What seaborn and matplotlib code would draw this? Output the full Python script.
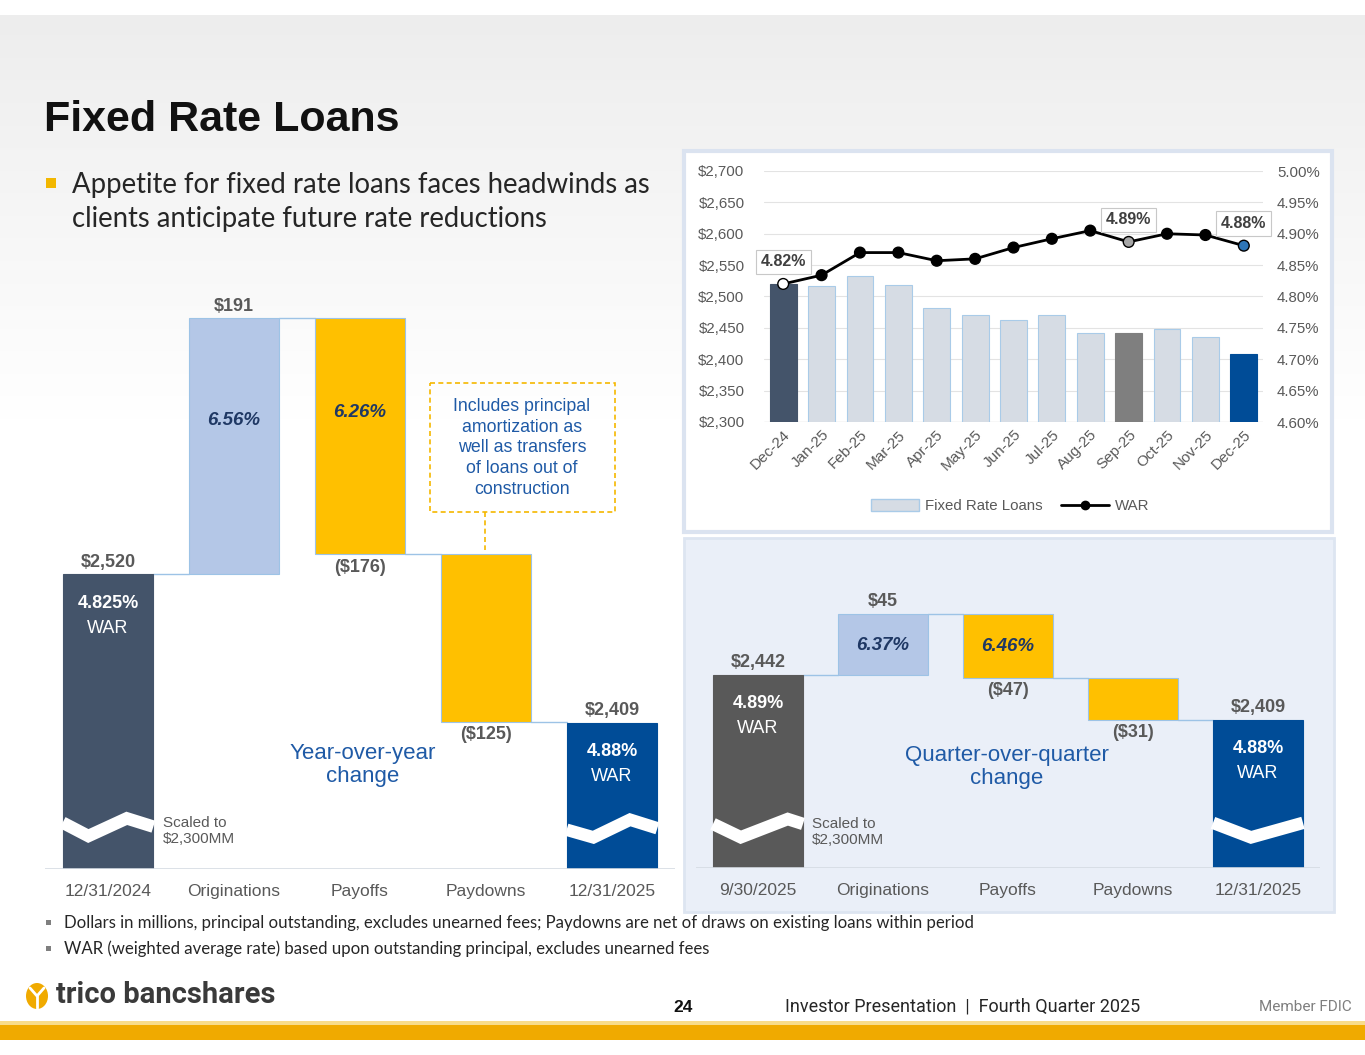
import numpy as np
import pandas as pd
import matplotlib.pyplot as plt
import seaborn as sns
from matplotlib.patches import Rectangle, Patch, Ellipse
from matplotlib.lines import Line2D
from matplotlib.ticker import FuncFormatter

# ============================================================================
# DATA
# ============================================================================

months = ['Dec-24', 'Jan-25', 'Feb-25', 'Mar-25', 'Apr-25', 'May-25', 'Jun-25',
          'Jul-25', 'Aug-25', 'Sep-25', 'Oct-25', 'Nov-25', 'Dec-25']
fixed_rate_loans = [2520, 2517, 2532, 2518, 2482, 2470, 2463, 2470, 2442, 2442, 2449, 2435, 2409]
war = [4.820, 4.834, 4.870, 4.870, 4.857, 4.860, 4.878, 4.892, 4.905, 4.887, 4.900, 4.898, 4.881]
war_labels = {0: '4.82%', 9: '4.89%', 12: '4.88%'}

yoy_steps = ['12/31/2024', 'Originations', 'Payoffs', 'Paydowns', '12/31/2025']
yoy_values = [2520, 191, -176, -125, 2409]
yoy_rates = ['4.825%', '6.56%', '6.26%', None, '4.88%']

qoq_steps = ['9/30/2025', 'Originations', 'Payoffs', 'Paydowns', '12/31/2025']
qoq_values = [2442, 45, -47, -31, 2409]
qoq_rates = ['4.89%', '6.37%', '6.46%', None, '4.88%']

scale_base = 2300

# ============================================================================
# STYLE
# ============================================================================

sns.set_theme(style='white')
plt.rcParams['font.family'] = ['Liberation Sans', 'DejaVu Sans']

W, H = 1365, 1055
GREY = '#595959'
BLUE_TXT = '#1f5aa6'
GOLD = '#ffc000'


def rect(x0, y0, x1, y1):
    return [x0 / W, 1 - y1 / H, (x1 - x0) / W, (y1 - y0) / H]


fig = plt.figure(figsize=(W / 100, H / 100), dpi=100)

# background canvas in pixel coordinates
bg = fig.add_axes([0, 0, 1, 1], zorder=0)
bg.set_xlim(0, W)
bg.set_ylim(H, 0)
bg.axis('off')
grad = np.linspace(0.93, 1.0, 200).reshape(-1, 1)
bg.imshow(np.dstack([grad, grad, grad]), extent=[0, W, 420, 15], aspect='auto', zorder=0)
bg.add_patch(Rectangle((0, 420), W, H - 420, fc='white', ec='none', zorder=0))

# panels
bg.add_patch(Rectangle((684, 151), 648, 381, fc='white', ec='#dbe3f0', lw=3, zorder=1))
bg.add_patch(Rectangle((684, 538), 650, 374, fc='#eaeff8', ec='#dde5f1', lw=2, zorder=1))

# title + bullet
bg.text(44, 120, 'Fixed Rate Loans', fontsize=31, fontweight='bold', color='#111111',
        va='center', ha='left', family=['Liberation Sans', 'DejaVu Sans'])
bg.add_patch(Rectangle((46, 178), 10, 10, fc='#f2b700', ec='none', zorder=2))
bg.text(72, 185, 'Appetite for fixed rate loans faces headwinds as', fontsize=19.8,
        color='#262626', va='center', family=['Lato', 'DejaVu Sans'])
bg.text(72, 219, 'clients anticipate future rate reductions', fontsize=19.8,
        color='#262626', va='center', family=['Lato', 'DejaVu Sans'])

# callout
bg.add_patch(Rectangle((430, 383), 185, 129, fill=False, ec='#f5b800', lw=1.2,
                       ls=(0, (3, 2)), zorder=2))
bg.plot([485, 485], [512, 550], color='#f5b800', lw=1.2, ls=(0, (3, 2)), zorder=2)
bg.text(522, 448, 'Includes principal\namortization as\nwell as transfers\nof loans out of\nconstruction',
        fontsize=12.8, color=BLUE_TXT, ha='center', va='center', linespacing=1.28, zorder=3)

bg.text(363, 765, 'Year-over-year\nchange', fontsize=16, color=BLUE_TXT, ha='center',
        va='center', linespacing=1.15, zorder=3)
bg.text(1007, 767, 'Quarter-over-quarter\nchange', fontsize=16, color=BLUE_TXT, ha='center',
        va='center', linespacing=1.15, zorder=3)
bg.text(163, 831, 'Scaled to\n$2,300MM', fontsize=11, color=GREY, ha='left', va='center',
        linespacing=1.15, zorder=3)
bg.text(812, 832, 'Scaled to\n$2,300MM', fontsize=11, color=GREY, ha='left', va='center',
        linespacing=1.15, zorder=3)

# footnotes
for yy, txt in [(923, 'Dollars in millions, principal outstanding, excludes unearned fees; '
                      'Paydowns are net of draws on existing loans within period'),
                (949, 'WAR (weighted average rate) based upon outstanding principal, excludes unearned fees')]:
    bg.add_patch(Rectangle((46, yy - 3), 5, 5, fc='#7f7f7f', ec='none', zorder=2))
    bg.text(64, yy, txt, fontsize=12.1, color='#262626', va='center', family=['Lato', 'DejaVu Sans'])

# footer
bg.add_patch(Ellipse((37, 996), 22, 26, fc='#f0aa00', ec='none', zorder=2))
bg.plot([30, 37, 44], [988, 996, 988], color='white', lw=2, zorder=3)
bg.plot([37, 37], [996, 1008], color='white', lw=2, zorder=3)
bg.text(56, 995, 'trico bancshares', fontsize=21, fontweight='bold', color='#3a3a3a',
        va='center', ha='left', family=['Liberation Sans Narrow', 'Roboto', 'DejaVu Sans'])
bg.text(683, 1007, '24', fontsize=12.5, fontweight='bold', color='#111111', ha='center', va='center')
bg.text(785, 1007, 'Investor Presentation  |  Fourth Quarter 2025', fontsize=13, color='#262626',
        va='center', ha='left', family=['Liberation Sans Narrow', 'Roboto', 'DejaVu Sans'])
bg.text(1352, 1007, 'Member FDIC', fontsize=11, color='#7f7f7f', va='center', ha='right',
        family=['Liberation Sans Narrow', 'Roboto', 'DejaVu Sans'])
bg.add_patch(Rectangle((0, 1021), W, 5, fc='#f8dc8a', ec='none', zorder=2))
bg.add_patch(Rectangle((0, 1025), W, 15, fc='#f0aa00', ec='none', zorder=2))

# ============================================================================
# TOP RIGHT: MONTHLY BARS + WAR LINE
# ============================================================================

ax = fig.add_axes(rect(764, 171, 1263, 422), zorder=2)
ax.set_facecolor('none')
bar_colors = ['#44546a'] + ['#d6dce4'] * 8 + ['#7f7f7f'] + ['#d6dce4'] * 2 + ['#004c97']
df_m = pd.DataFrame({'month': months, 'loans': fixed_rate_loans, 'war': war})
sns.barplot(data=df_m, x='month', y='loans', hue='month', palette=bar_colors, legend=False,
            width=0.70, ax=ax, saturation=1, zorder=2)
for p, c in zip(ax.patches, bar_colors):
    p.set_edgecolor('#a9cbe8' if c == '#d6dce4' else c)
    p.set_linewidth(0.8)
ax.set_ylim(2300, 2700)
ax.set_xlim(-0.5, 12.5)
ax.set_yticks(np.arange(2300, 2701, 50))
ax.yaxis.set_major_formatter(FuncFormatter(lambda v, _: f'${v:,.0f}'))
ax.yaxis.grid(True, color='#e3e3e3', lw=0.8, zorder=0)
ax.set_axisbelow(True)
ax.set_xlabel('')
ax.set_ylabel('')
for s in ax.spines.values():
    s.set_visible(False)
ax.axhline(2300, color='#d0d0d0', lw=0.9, zorder=1)
ax.tick_params(axis='y', length=0, pad=14, labelsize=10.8, labelcolor=GREY)
ax.tick_params(axis='x', length=0, pad=4, labelsize=11, labelcolor=GREY)
plt.setp(ax.get_xticklabels(), rotation=45, ha='right', rotation_mode='anchor')

ax2 = ax.twinx()
ax2.set_zorder(3)
x_pos = np.arange(len(months))
sns.lineplot(x=x_pos, y=war, ax=ax2, color='black', lw=2, zorder=3)
marker_colors = ['white'] + ['black'] * 8 + ['#a6a6a6'] + ['black'] * 2 + ['#2e75b6']
sns.scatterplot(x=x_pos, y=war, hue=x_pos, palette=marker_colors, legend=False, s=60,
                edgecolor='black', linewidth=1, ax=ax2, zorder=4)
ax2.set_ylim(4.60, 5.00)
ax2.set_yticks(np.arange(4.60, 5.001, 0.05))
ax2.yaxis.set_major_formatter(FuncFormatter(lambda v, _: f'{v:.2f}%'))
ax2.tick_params(axis='y', length=0, pad=10, labelsize=10.8, labelcolor=GREY)
for s in ax2.spines.values():
    s.set_visible(False)
ax2.grid(False)
for i, lab in war_labels.items():
    ax2.annotate(lab, (i, war[i]), xytext=(0, 22), textcoords='offset pixels',
                 ha='center', va='center', fontsize=11.5, fontweight='bold', color='#404040',
                 bbox=dict(boxstyle='square,pad=0.3', fc='white', ec='#c8c8c8', lw=0.8))

handles = [Patch(facecolor='#d6dce4', edgecolor='#a9cbe8', label='Fixed Rate Loans'),
           Line2D([0], [0], color='black', lw=2, marker='o', markersize=6, label='WAR')]
ax.legend(handles=handles, loc='center', bbox_to_anchor=(0.493, -0.335), ncol=2,
          frameon=False, fontsize=10.8, labelcolor=GREY, handlelength=3.2,
          handleheight=0.9, columnspacing=1.2, handletextpad=0.4)


# ============================================================================
# WATERFALLS
# ============================================================================

def draw_waterfall(ax, steps, values, rates, start_color, end_color, ytop, rate_frac, breaks):
    width = 0.715
    level = values[0]
    colors = [start_color, '#b4c7e7', GOLD, GOLD, end_color]
    tops, bottoms = [], []
    for i, v in enumerate(values):
        if i == 0 or i == len(values) - 1:
            bottom, height = scale_base, v - scale_base
        else:
            bottom, height = min(level, level + v), abs(v)
            level += v
        tops.append(bottom + height)
        bottoms.append(bottom)
        edge = '#9dc3e6' if 0 < i < len(values) - 1 else colors[i]
        ax.bar(i, height, bottom=bottom, width=width, color=colors[i], edgecolor=edge,
               lw=0.8, zorder=2)

    # connectors
    level = values[0]
    for i in range(len(values) - 1):
        if i > 0:
            level += values[i]
        ax.plot([i + width / 2, i + 1 - width / 2], [level, level], color='#9dc3e6', lw=1, zorder=1)

    # value labels
    for i, v in enumerate(values):
        if i == 0 or i == len(values) - 1 or v > 0:
            ax.annotate(f'${v:,}', (i, tops[i]), xytext=(0, 12), textcoords='offset pixels',
                        ha='center', va='center', fontsize=13, fontweight='bold', color=GREY)
        else:
            ax.annotate(f'(${abs(v):,})', (i, bottoms[i]), xytext=(0, -13), textcoords='offset pixels',
                        ha='center', va='center', fontsize=13, fontweight='bold', color=GREY)

    # rate labels
    for i, r in enumerate(rates):
        if r is None:
            continue
        if i == 0 or i == len(values) - 1:
            ax.annotate(r, (i, tops[i]), xytext=(0, -29), textcoords='offset pixels',
                        ha='center', va='center', fontsize=13, fontweight='bold', color='white')
            ax.annotate('WAR', (i, tops[i]), xytext=(0, -54), textcoords='offset pixels',
                        ha='center', va='center', fontsize=13, color='white')
        else:
            y = tops[i] - rate_frac * (tops[i] - bottoms[i])
            ax.text(i, y, r, ha='center', va='center', fontsize=13.5, fontweight='bold',
                    fontstyle='italic', color='#1f3864', zorder=3)

    # scale break zigzags
    for bx, by in breaks:
        ax.plot(bx, by, color='white', lw=9, solid_joinstyle='miter', solid_capstyle='butt', zorder=3)

    ax.set_xlim(-0.5, len(values) - 0.5)
    ax.set_ylim(scale_base, ytop)
    ax.set_xticks(range(len(steps)))
    ax.set_xticklabels(steps)
    ax.set_yticks([])
    ax.tick_params(axis='x', length=0, pad=11, labelsize=12.5, labelcolor=GREY)
    for s in ax.spines.values():
        s.set_visible(False)
    ax.axhline(scale_base, color='#d5dbe3', lw=1.2, zorder=4)
    ax.set_facecolor('none')
    ax.grid(False)


ax_yoy = fig.add_axes(rect(45, 290, 675, 869), zorder=2)
draw_waterfall(ax_yoy, yoy_steps, yoy_values, yoy_rates, '#44546a', '#004c97',
               scale_base + 579 / 1.34, 0.40,
               [([-0.36, -0.156, 0.149, 0.36], [2334.6, 2324.6, 2337.8, 2331.6]),
                ([3.64, 3.852, 4.143, 4.36], [2329.3, 2323.6, 2336.8, 2330.4])])

ax_qoq = fig.add_axes(rect(695.5, 560, 1320.5, 868), zorder=2)
draw_waterfall(ax_qoq, qoq_steps, qoq_values, qoq_rates, '#595959', '#004c97',
               scale_base + 308 / 1.36, 0.52,
               [([-0.36, -0.138, 0.238, 0.36], [2332.4, 2322.6, 2336, 2332.4]),
                ([3.64, 3.944, 4.36], [2333.2, 2322.5, 2333.2])])

fig.savefig('out.png', dpi=100)
